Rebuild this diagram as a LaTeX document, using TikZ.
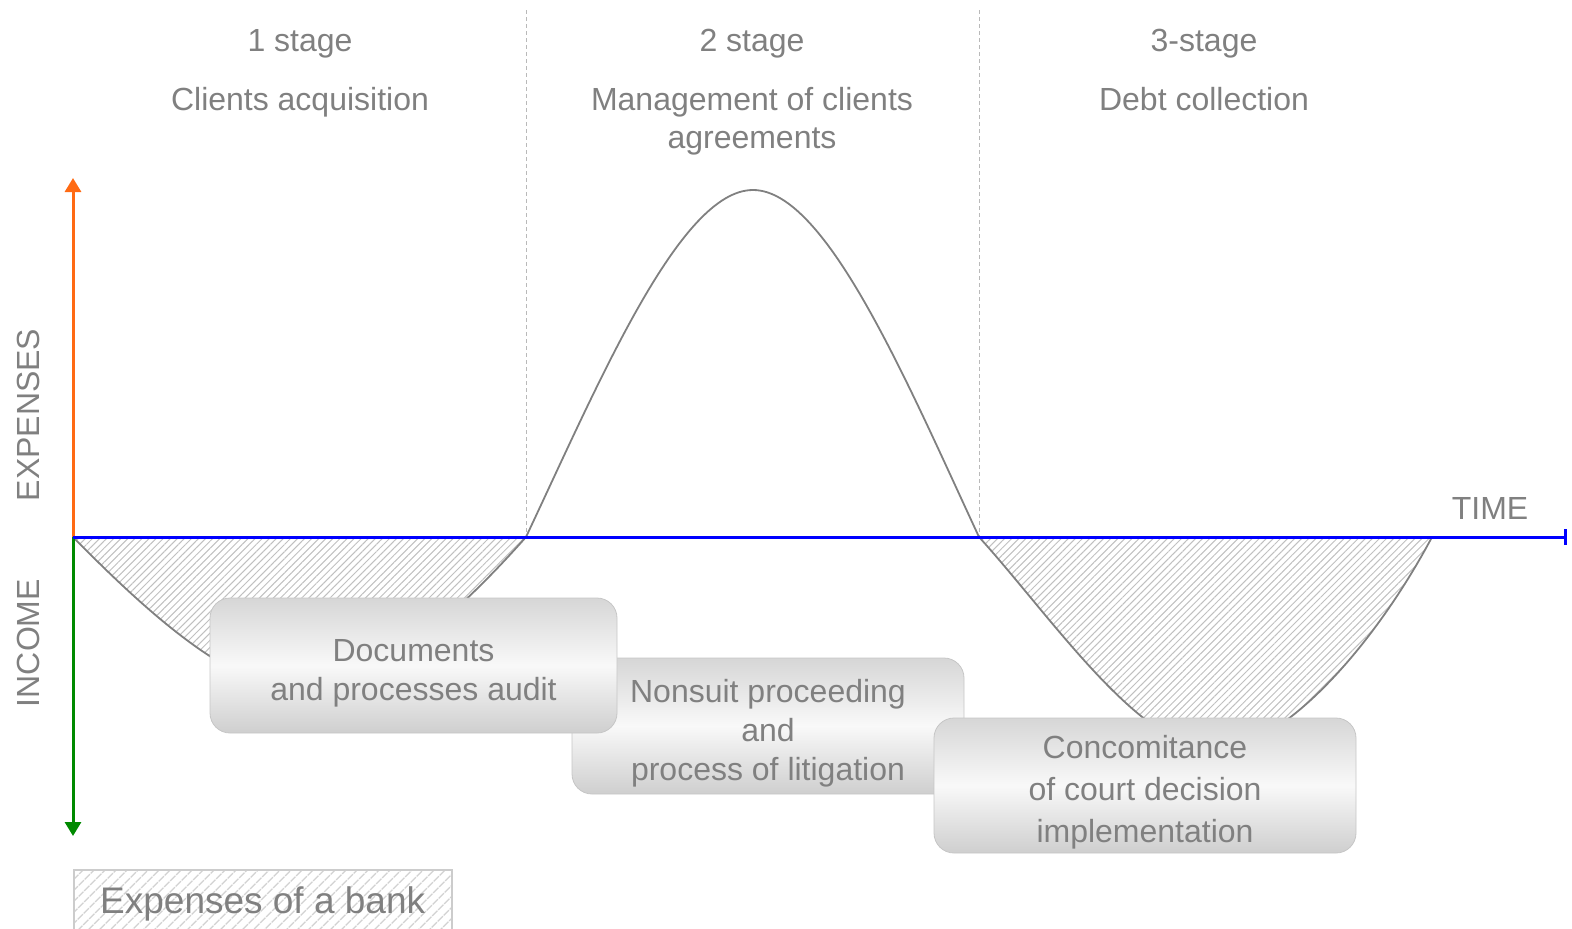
\documentclass[tikz,border=0pt]{standalone}
\usepackage{fontspec}
\setmainfont{Liberation Sans}
\usetikzlibrary{arrows.meta,patterns.meta}
\definecolor{txtgray}{HTML}{808080}
\definecolor{axorange}{HTML}{FF6A13}
\definecolor{axgreen}{HTML}{008A00}
\definecolor{axblue}{HTML}{0000FF}
\definecolor{hatchgray}{HTML}{C0C0C0}
\newcommand{\boxstrut}{\rule{0pt}{18.5pt}}
\tikzset{
  lbl/.style={text=txtgray, font=\fontsize{16}{19}\selectfont, align=center},
  procbox/.style={draw=gray!45, rounded corners=10pt, top color=gray!32, bottom color=gray!38, middle color=white!95!gray, text=txtgray, font=\fontsize{16}{19.5}\selectfont, align=center, inner sep=0pt},
  hatch/.style={pattern={Lines[angle=45,distance=2.5pt,line width=0.5pt]}, pattern color=hatchgray},
  border/.style={gray!55, line width=0.4pt, dash pattern=on 2pt off 1.5pt},
  axis/.style={line width=1.5pt, -{Triangle[width=8pt,length=7pt]}},
}

\begin{document}
\begin{tikzpicture}[x=0.5pt,y=-0.5pt]
 \useasboundingbox (0,0) rectangle (1572,928);
 \coordinate (o) at (73,537);
 \coordinate (etop) at (73,178);
 \coordinate (ibot) at (73,836);
 \coordinate (tend) at (1567,537);
 \coordinate (s12) at (526,537);
 \coordinate (s23) at (979,537);
 \coordinate (s3e) at (1432,537);
 \coordinate (b12) at (526,10);
 \coordinate (b23) at (979,10);

 \draw[border] (b12) -- (s12);
 \draw[border] (b23) -- (s23);

 \fill[hatch] (o) .. controls (140,605) and (230,690) .. (300,690) .. controls (380,690) and (470,600) .. (s12) -- cycle;
 \fill[hatch] (s23) .. controls (1050,615) and (1140,750) .. (1215,750) .. controls (1280,750) and (1372,650) .. (s3e) -- cycle;
 \draw[gray, line width=0.9pt] (o) .. controls (140,605) and (230,690) .. (300,690) .. controls (380,690) and (470,600) .. (s12)
   .. controls (600,380) and (680,190) .. (753,190) .. controls (826,190) and (906,380) .. (s23)
   .. controls (1050,615) and (1140,750) .. (1215,750) .. controls (1280,750) and (1372,650) .. (s3e);

 \draw[axis, axorange] (o) -- (etop);
 \draw[axis, axgreen] (o) -- (ibot);
 \draw[axblue, line width=1.5pt, -{Bar[width=8pt]}] (o) -- (tend);

 \node[lbl, anchor=base] (st1) at (300,51) {1 stage};
 \node[lbl, anchor=base] (st1name) at (300,110) {Clients acquisition};
 \node[lbl, anchor=base] (st2) at (752,51) {2 stage};
 \node[lbl] (st2name) at (752,121) {Management of clients\\agreements};
 \node[lbl, anchor=base] (st3) at (1204,51) {3-stage};
 \node[lbl, anchor=base] (st3name) at (1204,110) {Debt collection};
 \node[lbl, anchor=base] (time) at (1490,519) {TIME};
 \node[lbl, rotate=90] (exp) at (28,415) {EXPENSES};
 \node[lbl, rotate=90] (inc) at (28,643) {INCOME};

 \node[procbox, minimum width=196pt, minimum height=68pt] (audit2) at (768,726) {\boxstrut Nonsuit proceeding\\and\\process of litigation};
 \node[procbox, minimum width=203.5pt, minimum height=67.5pt] (audit1) at (413.5,665.5) {\boxstrut Documents\\and processes audit};
 \node[procbox, minimum width=211pt, minimum height=67.5pt, font=\fontsize{16}{21}\selectfont] (audit3) at (1145,785.5) {\boxstrut Concomitance\\of court decision\\implementation};

 \node[draw=gray!40, line width=0.8pt, pattern={Lines[angle=45,distance=4pt,line width=0.7pt]}, pattern color=gray!35,
   text=txtgray, font=\fontsize{18.5}{22}\selectfont, text height=13pt, text depth=1pt,
   minimum width=189pt, minimum height=32pt, inner sep=0pt, anchor=north west] (legend) at (73,869) {Expenses of a bank};
\end{tikzpicture}
\end{document}
